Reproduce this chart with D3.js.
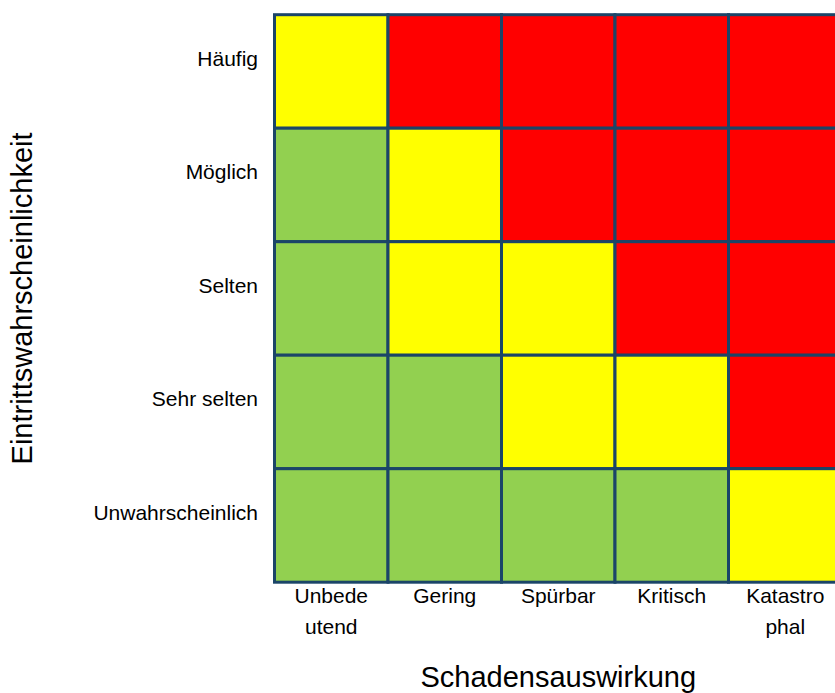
<!DOCTYPE html>
<html>
<head>
    <meta charset="utf-8">
    <title>Risikomatrix</title>
    <script src="https://d3js.org/d3.v7.min.js"></script>
    <style>
        body { margin: 0; background: #fff; }
        svg { display: block; font-family: "Liberation Sans", Arial, sans-serif; }
    </style>
</head>
<body>
    <svg id="chart"></svg>
    <script>
        // Wahrscheinlichkeit (oben nach unten) und Auswirkung (links nach rechts)
        const rows = ["Häufig", "Möglich", "Selten", "Sehr selten", "Unwahrscheinlich"];
        const cols = ["Unbedeutend", "Gering", "Spürbar", "Kritisch", "Katastrophal"];
        // tick labels as they are wrapped in the picture
        const colLabels = [["Unbede", "utend"], ["Gering"], ["Spürbar"], ["Kritisch"], ["Katastro", "phal"]];
        // risk level per row: 0 = gering (grün), 1 = mittel (gelb), 2 = hoch (rot)
        const levels = [
            [1, 2, 2, 2, 2],
            [0, 1, 2, 2, 2],
            [0, 1, 1, 2, 2],
            [0, 0, 1, 1, 2],
            [0, 0, 0, 0, 1]
        ];
        const levelColors = ["#92D050", "#FFFF00", "#FF0000"];

        const width = 835, height = 693;
        const gridLeft = 274.5, gridTop = 14.7, cell = 113.5;

        const svg = d3.select('#chart')
            .attr('width', width)
            .attr('height', height);

        const x = d3.scaleBand().domain(cols).range([gridLeft, gridLeft + cell * cols.length]);
        const y = d3.scaleBand().domain(rows).range([gridTop, gridTop + cell * rows.length]);
        const color = d3.scaleOrdinal().domain([0, 1, 2]).range(levelColors);

        const cells = [];
        rows.forEach((r, i) => cols.forEach((c, j) => cells.push({ r: r, c: c, v: levels[i][j] })));

        svg.append('g').selectAll('rect')
            .data(cells)
            .join('rect')
            .attr('x', d => x(d.c))
            .attr('y', d => y(d.r))
            .attr('width', x.bandwidth())
            .attr('height', y.bandwidth())
            .attr('fill', d => color(d.v))
            .attr('stroke', '#1B4568')
            .attr('stroke-width', 3);

        // row labels
        svg.append('g').selectAll('text')
            .data(rows)
            .join('text')
            .attr('x', 258)
            .attr('y', d => y(d) + y.bandwidth() / 2 - 11)
            .attr('text-anchor', 'end')
            .attr('dominant-baseline', 'middle')
            .attr('font-size', '21px')
            .attr('fill', '#000')
            .text(d => d);

        // column labels
        const colG = svg.append('g').selectAll('text')
            .data(cols)
            .join('text')
            .attr('text-anchor', 'middle')
            .attr('font-size', '21px')
            .attr('fill', '#000');
        colG.selectAll('tspan')
            .data((d, i) => colLabels[i].map(t => ({ col: d, t: t })))
            .join('tspan')
            .attr('x', d => x(d.col) + x.bandwidth() / 2)
            .attr('y', (d, i) => 603 + i * 31)
            .text(d => d.t);

        // axis titles
        svg.append('text')
            .attr('transform', 'translate(32,' + (gridTop + cell * 2.5) + ') rotate(-90)')
            .attr('text-anchor', 'middle')
            .attr('font-size', '29px')
            .text('Eintrittswahrscheinlichkeit');

        svg.append('text')
            .attr('x', x('Spürbar') + x.bandwidth() / 2)
            .attr('y', 687)
            .attr('text-anchor', 'middle')
            .attr('font-size', '29px')
            .text('Schadensauswirkung');
    </script>
</body>
</html>
